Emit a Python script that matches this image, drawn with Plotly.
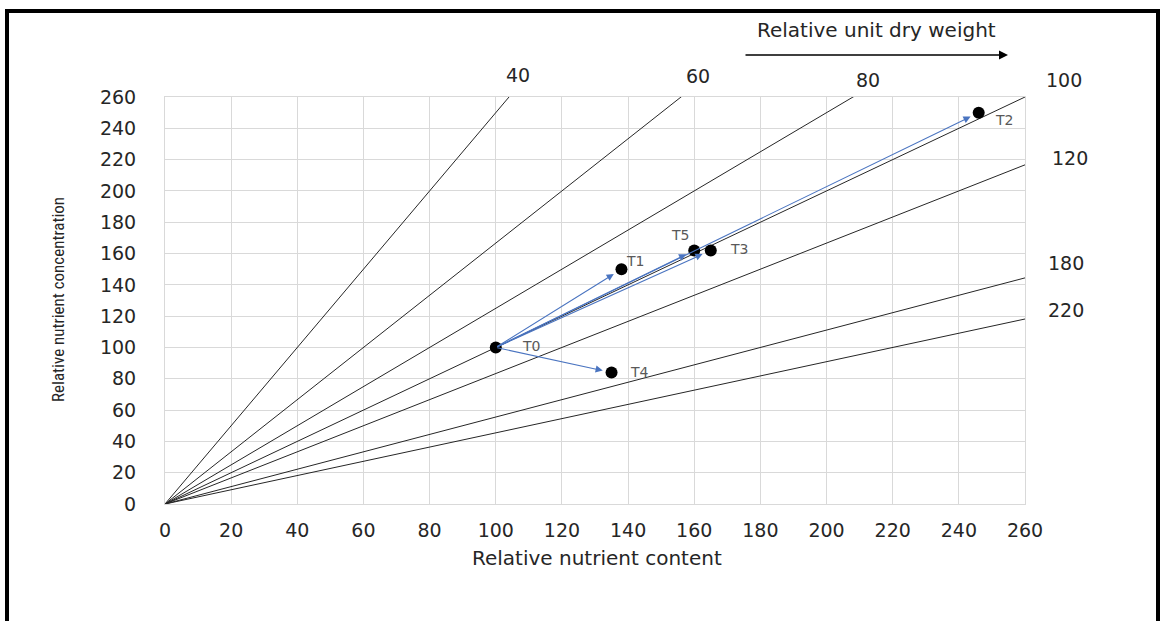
import plotly.graph_objects as go

# ---- data ----
weights = [40, 60, 80, 100, 120, 180, 220]          # relative unit dry weight isolines
point_names = ["T0", "T1", "T2", "T3", "T4", "T5"]
content = [100, 138, 246, 165, 135, 160]             # relative nutrient content (x)
concentration = [100, 150, 250, 162, 84, 162]        # relative nutrient concentration (y)
ticks = list(range(0, 261, 20))

# ---- layout helpers (pixel geometry of plot area) ----
L, R, T, B = 165, 1025, 97, 504
W_PX, H_PX = 1163, 621
def px(xpix):
    return (xpix - L) / (R - L)
def py(ypix):
    return (B - ypix) / (B - T)

FONT = "DejaVu Sans"
TXT = "#262626"

fig = go.Figure()

# isolines: concentration = 100 * content / weight
for w in weights:
    fig.add_trace(go.Scatter(
        x=[0, 260], y=[0, 260 * 100 / w], mode="lines",
        line=dict(color="#262626", width=1), hoverinfo="skip", showlegend=False))

# points
fig.add_trace(go.Scatter(
    x=content, y=concentration, mode="markers",
    marker=dict(color="black", size=12), showlegend=False, cliponaxis=False))

annotations = []
# arrows from T0 to every other treatment
x0, y0 = content[0], concentration[0]
for name, xv, yv in zip(point_names[1:], content[1:], concentration[1:]):
    annotations.append(dict(
        x=xv, y=yv, ax=x0, ay=y0, xref="x", yref="y", axref="x", ayref="y",
        showarrow=True, arrowhead=2, arrowsize=1.3, arrowwidth=1.1,
        arrowcolor="#4a74c0", standoff=9, text=""))

# point labels
label_shift = {"T0": (35, 1), "T1": (14, 8), "T2": (25, -7),
               "T3": (28, 1), "T4": (28, 1), "T5": (-14, 15)}
for name, xv, yv in zip(point_names, content, concentration):
    dx, dy = label_shift[name]
    annotations.append(dict(
        x=xv, y=yv, xref="x", yref="y", text=name, showarrow=False,
        xanchor="center", yanchor="middle",
        xshift=dx, yshift=dy, font=dict(family=FONT, size=14, color="#595959")))

# isoline labels
iso_label_pos = {40: (518, 75), 60: (698, 76), 80: (868, 80), 100: (1064, 80),
                 120: (1070, 158), 180: (1066, 263), 220: (1066, 310)}
for w in weights:
    xp, yp = iso_label_pos[w]
    annotations.append(dict(
        x=px(xp), y=py(yp), xref="paper", yref="paper", text=str(w), showarrow=False,
        xanchor="center", yanchor="middle",
        font=dict(family=FONT, size=19, color=TXT)))

# "Relative unit dry weight" + arrow
annotations.append(dict(
    x=px(876), y=py(30), xref="paper", yref="paper", text="Relative unit dry weight",
    showarrow=False, xanchor="center", yanchor="middle",
    font=dict(family=FONT, size=20, color=TXT)))
annotations.append(dict(
    x=px(1008), y=py(55), xref="paper", yref="paper", ax=-264, ay=0,
    showarrow=True, arrowhead=2, arrowsize=1.2, arrowwidth=1.5, arrowcolor="black", text=""))

# axis titles
annotations.append(dict(
    x=px(597), y=py(558), xref="paper", yref="paper", text="Relative nutrient content",
    showarrow=False, xanchor="center", yanchor="middle",
    font=dict(family=FONT, size=20, color=TXT)))
annotations.append(dict(
    x=px(58), y=py(300), xref="paper", yref="paper", text="Relative nutrient concentration",
    showarrow=False, textangle=-90, xanchor="center", yanchor="middle",
    font=dict(family="Liberation Sans Narrow, Roboto Condensed, Arial Narrow, sans-serif",
              size=17, color=TXT)))

axis_common = dict(
    range=[0, 260], tickvals=ticks, showgrid=True, gridcolor="#d9d9d9", gridwidth=1,
    zeroline=False, showline=True, linecolor="#d9d9d9", linewidth=1, mirror=True,
    ticks="", tickfont=dict(family=FONT, size=19, color=TXT))

fig.update_layout(
    width=W_PX, height=H_PX,
    margin=dict(l=L, r=W_PX - R, t=T, b=H_PX - B),
    paper_bgcolor="white", plot_bgcolor="white",
    xaxis=dict(**axis_common, ticklabelstandoff=9),
    yaxis=dict(**axis_common, ticklabelstandoff=24),
    annotations=annotations,
    shapes=[dict(type="rect", xref="paper", yref="paper",
                 x0=px(7), x1=px(1158), y0=py(700), y1=py(11),
                 line=dict(color="black", width=4), fillcolor="rgba(0,0,0,0)", layer="above")],
    showlegend=False,
)

fig.write_html("out.html")
